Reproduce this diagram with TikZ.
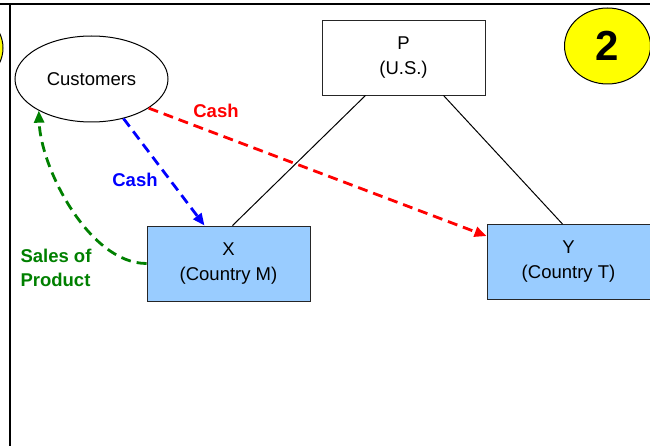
\documentclass[tikz,border=0pt]{standalone}
\usepackage{fontspec}
\setmainfont{Liberation Sans}
\usetikzlibrary{arrows.meta,shapes.geometric}

\definecolor{boxblue}{RGB}{153,204,255}
\definecolor{salesgreen}{RGB}{0,128,0}
\definecolor{badgeyellow}{RGB}{255,255,0}

\begin{document}
\begin{tikzpicture}[x=1pt,y=-1pt,>={Triangle[length=12pt,width=10pt]},
  every node/.style={font=\fontsize{18.5}{25}\selectfont},
  entity/.style={draw=black!85,line width=0.9pt,minimum width=163pt,minimum height=75pt,align=center},
  sub/.style={entity,fill=boxblue},
  badge/.style={ellipse,draw,line width=1pt,fill=badgeyellow,minimum width=86pt,minimum height=76pt,inner sep=0pt},
  flow/.style={->,dashed,line width=2.8pt,dash pattern=on 10pt off 6pt},
  tag/.style={font=\fontsize{18.5}{24}\selectfont\bfseries}]
  \useasboundingbox (0,0) rectangle (650,446);

  \node[badge] (one) at (-40,48) {};
  \node[badge] (two) at (607.5,46) {\raisebox{-2pt}{\fontsize{42}{42}\selectfont\bfseries 2}};
  \node[ellipse,draw,line width=1pt,minimum width=153pt,minimum height=86pt,inner sep=0pt] (C) at (91.5,79) {Customers};
  \node[entity] (P) at (403.5,57.5) {P\\(U.S.)};
  \node[sub] (X) at (228.5,263.5) {X\\(Country M)};
  \node[sub] (Y) at (568.5,262) {Y\\(Country T)};

  \draw[line width=2.5pt] (0,4) -- (650,4);
  \draw[line width=2.5pt] (10,4) -- (10,446);

  \draw[line width=1pt] ([xshift=-38pt]P.south) -- ([xshift=4pt]X.north);
  \draw[line width=1pt] ([xshift=40pt]P.south) -- ([xshift=-6pt]Y.north);

  \draw[flow,blue] (C.-51) -- ([xshift=-24pt]X.north);
  \draw[flow,red] (C.-27) -- ([yshift=-12pt]Y.north west);
  \draw[flow,salesgreen] (X.west) .. controls +(-57,0) and +(2,58) .. (C.211);

  \node[tag,red] (cashT) at (216,111) {Cash};
  \node[tag,blue] (cashX) at (135,180) {Cash};
  \node[tag,salesgreen,align=left] (sales) at (56,268) {Sales of\\Product};
\end{tikzpicture}
\end{document}
